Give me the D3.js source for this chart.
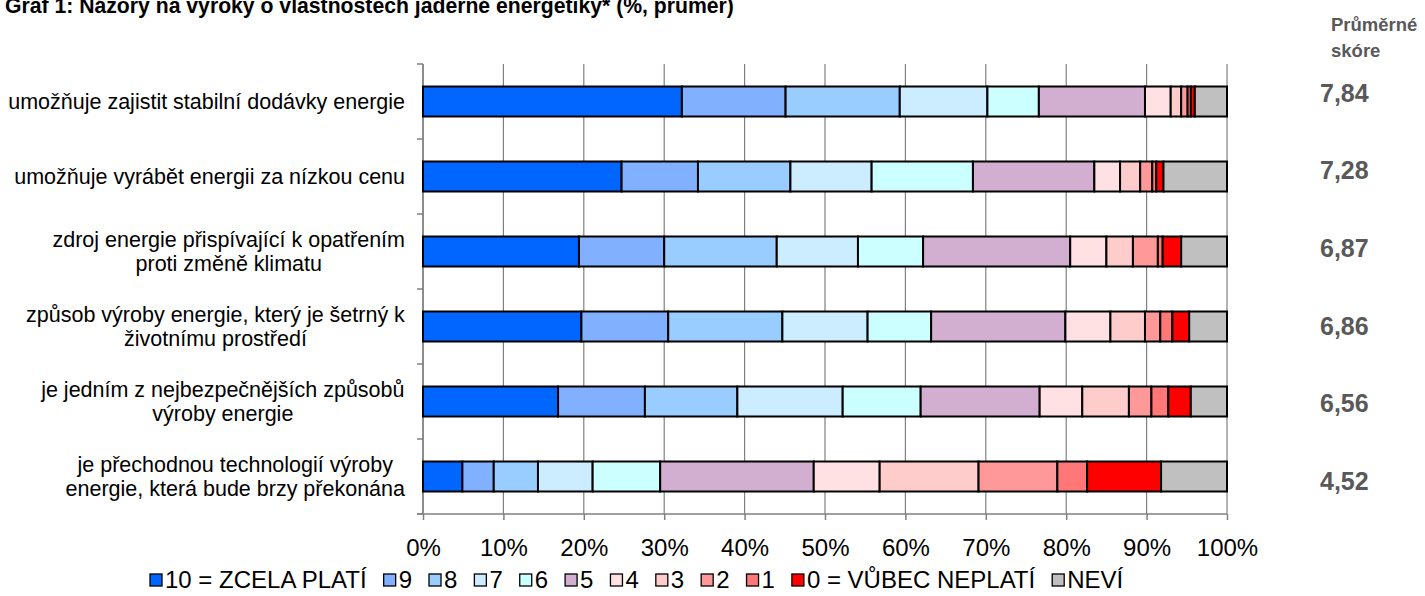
<!DOCTYPE html>
<html>
<head>
<meta charset="utf-8">
<script src="https://cdn.jsdelivr.net/npm/d3@7"></script>
<style>
  html, body { margin: 0; padding: 0; background: #fff; }
  svg { display: block; font-family: "Liberation Sans", Arial, sans-serif; }
</style>
</head>
<body>
<svg id="chart" width="1425" height="596"></svg>
<script>
const title = "Graf 1: Názory na výroky o vlastnostech jaderné energetiky* (%, průměr)";
const categories = [
  ["umožňuje zajistit stabilní dodávky energie"],
  ["umožňuje vyrábět energii za nízkou cenu"],
  ["zdroj energie přispívající k opatřením", "proti změně klimatu"],
  ["způsob výroby energie, který je šetrný k", "životnímu prostředí"],
  ["je jedním z nejbezpečnějších způsobů", "výroby energie"],
  ["je přechodnou technologií výroby", "energie, která bude brzy překonána"]
];
const seriesNames = ["10 = ZCELA PLATÍ", "9", "8", "7", "6", "5", "4", "3", "2", "1", "0 = VŮBEC NEPLATÍ", "NEVÍ"];
const seriesColors = ["#0066FF", "#80B0FF", "#99CCFF", "#CCECFF", "#CCFFFF", "#D2AFD0", "#FFE1E3", "#FFCCCC", "#FF9999", "#FF7777", "#FF0000", "#C0C0C0"];
// values per category, in series order (%)
const values = [
  [32.2, 12.9, 14.2, 10.9, 6.4, 13.2, 3.2, 1.3, 0.8, 0.4, 0.5, 4.0],
  [24.7, 9.5, 11.5, 10.1, 12.6, 15.1, 3.2, 2.5, 1.5, 0.5, 0.9, 7.9],
  [19.4, 10.6, 14.0, 10.1, 8.1, 18.3, 4.5, 3.3, 3.1, 0.6, 2.3, 5.7],
  [19.7, 10.8, 14.2, 10.6, 7.9, 16.7, 5.6, 4.3, 1.9, 1.5, 2.1, 4.7],
  [16.8, 10.8, 11.5, 13.1, 9.7, 14.8, 5.3, 5.8, 2.8, 2.1, 2.8, 4.5],
  [4.9, 3.9, 5.5, 6.8, 8.4, 19.1, 8.2, 12.3, 9.8, 3.7, 9.2, 8.2]
];
const scores = ["7,84", "7,28", "6,87", "6,86", "6,56", "4,52"];
const scoreHeader = ["Průměrné", "skóre"];
const xTicks = [0, 10, 20, 30, 40, 50, 60, 70, 80, 90, 100];

const svg = d3.select("#chart");
const plot = { left: 423, right: 1227, top: 64, bottom: 514 };

const x = d3.scaleLinear().domain([0, 100]).range([plot.left, plot.right]);
const y = d3.scaleBand().domain(d3.range(categories.length)).range([plot.top, plot.bottom]).paddingInner(0.6).paddingOuter(0.3);
const yBand = d3.scaleBand().domain(d3.range(categories.length)).range([plot.top, plot.bottom]);
const yScore = d3.scalePoint().domain(d3.range(categories.length)).range([93, 481]);

// title
svg.append("text").attr("x", 5).attr("y", 13)
  .attr("font-size", 21.2).attr("font-weight", "bold").attr("fill", "#000")
  .text(title);

// gridlines
svg.append("g").selectAll("line").data(xTicks).join("line")
  .attr("x1", d => x(d)).attr("x2", d => x(d))
  .attr("y1", plot.top).attr("y2", plot.bottom)
  .attr("stroke", "#808080").attr("stroke-width", 1.2);

// y axis (left) with tick marks at band boundaries
const yAxisG = svg.append("g");
yAxisG.append("line").attr("x1", plot.left).attr("x2", plot.left)
  .attr("y1", plot.top).attr("y2", plot.bottom).attr("stroke", "#808080").attr("stroke-width", 1.5);
const boundaries = d3.range(categories.length + 1).map(i => i < categories.length ? yBand(i) : plot.bottom);
yAxisG.selectAll("line.t").data(boundaries).join("line").attr("class", "t")
  .attr("x1", plot.left - 6).attr("x2", plot.left)
  .attr("y1", d => d).attr("y2", d => d).attr("stroke", "#808080").attr("stroke-width", 1.5);

// x axis
const xAxis = d3.axisBottom(x).tickValues(xTicks).tickFormat(d => d + "%").tickSize(6).tickPadding(19);
const xg = svg.append("g").attr("transform", `translate(0,${plot.bottom})`).call(xAxis);
xg.select(".domain").attr("stroke", "#808080").attr("stroke-width", 1.5)
  .attr("d", `M${plot.left - 6},0H${plot.right}`);
xg.selectAll(".tick line").attr("stroke", "#808080").attr("stroke-width", 1.5);
xg.selectAll(".tick text").attr("font-size", 24).attr("fill", "#000")
  .attr("font-family", "Liberation Sans, Arial, sans-serif");

// bars
const stacked = values.map((row, i) => {
  let acc = 0;
  return row.map((v, j) => { const s = acc; acc += v; return { cat: i, ser: j, x0: s, x1: acc }; });
});
svg.append("g").selectAll("g").data(stacked).join("g")
  .selectAll("rect").data(d => d).join("rect")
  .attr("x", d => x(d.x0)).attr("width", d => x(d.x1) - x(d.x0))
  .attr("y", d => y(d.cat)).attr("height", y.bandwidth())
  .attr("fill", d => seriesColors[d.ser])
  .attr("stroke", "#000").attr("stroke-width", 2);

// category labels (centered multi-line block, right edge at ~405)
const labelG = svg.append("g").attr("font-size", 21.5).attr("fill", "#000");
categories.forEach((lines, i) => {
  const cy = y(i) + y.bandwidth() / 2;
  const t = labelG.append("text").attr("text-anchor", "middle");
  const lh = 23.5;
  lines.forEach((ln, k) => {
    t.append("tspan").attr("x", 0).attr("y", cy + (k - (lines.length - 1) / 2) * lh).attr("dy", "0.35em").text(ln);
  });
  const w = t.node().getBBox().width;
  t.attr("transform", `translate(${405 - w / 2},0)`);
});

// scores
const scoreG = svg.append("g").attr("font-weight", "bold").attr("fill", "#595959");
scoreG.selectAll("text.h").data(scoreHeader).join("text").attr("class", "h")
  .attr("x", 1331).attr("y", (d, i) => 25 + i * 26).attr("dy", "0.35em")
  .attr("font-size", 18.5).text(d => d);
scoreG.selectAll("text.s").data(scores).join("text").attr("class", "s")
  .attr("x", 1320).attr("y", (d, i) => yScore(i)).attr("dy", "0.35em")
  .attr("font-size", 25).text(d => d);

// legend
const legG = svg.append("g").attr("transform", "translate(150,580)");
let lx = 0;
seriesNames.forEach((name, i) => {
  legG.append("rect").attr("x", lx).attr("y", -6).attr("width", 12).attr("height", 12)
    .attr("fill", seriesColors[i]).attr("stroke", "#000").attr("stroke-width", 1.3);
  const t = legG.append("text").attr("x", lx + 15).attr("y", 0).attr("dy", "0.35em")
    .attr("font-size", 24).attr("fill", "#000").text(name);
  lx += 15 + t.node().getComputedTextLength() + 17;
});
</script>
</body>
</html>
